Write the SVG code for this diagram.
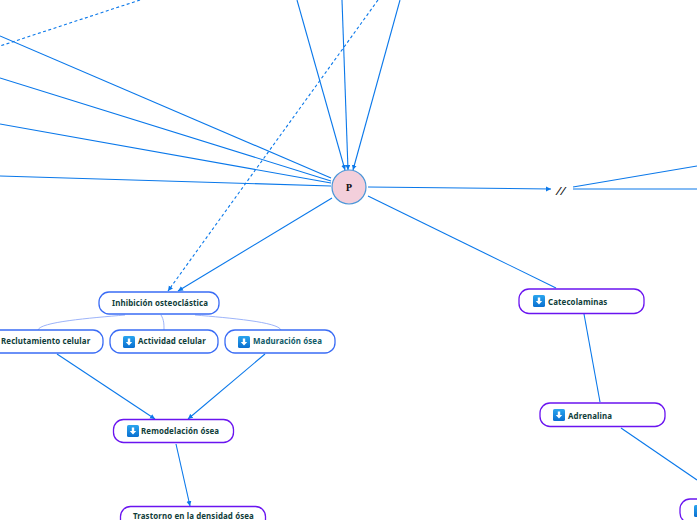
<svg xmlns="http://www.w3.org/2000/svg" width="697" height="520" viewBox="0 0 697 520">
<style>
text{font-family:"Noto Sans","Open Sans",sans-serif;font-size:7.9px;letter-spacing:.12px;font-weight:700;fill:#0f3d3a}
.c line,.c path{fill:none;stroke:#0a78ea;stroke-width:1.1}
.c .d{stroke-dasharray:3 2.5}
.b{fill:#fff;stroke:#3a6cf5;stroke-width:1.3}
.v{fill:#fff;stroke:#6a14f0;stroke-width:1.3}
.c .s{fill:none;stroke:#9db4fa;stroke-width:1}
.m{font-family:"DejaVu Serif",serif;fill:#111}
</style>
<defs>
<marker id="a" markerWidth="6" markerHeight="6" refX="5" refY="2.5" orient="auto" markerUnits="userSpaceOnUse"><path d="M0 0L5 2.5L0 5Z" fill="#0a78ea"/></marker>
<linearGradient id="g" x1="0" y1="0" x2="0" y2="1"><stop offset="0" stop-color="#2aa5ee"/><stop offset="1" stop-color="#0a6fd0"/></linearGradient>
<g id="i"><rect width="12" height="12" rx="1.6" fill="url(#g)"/><path d="M4.8 2.4h2.4v3.600h2L6 9.600L2.800 6h2Z" fill="#fff"/></g>
</defs>
<g id="connectors" class="c">
<line class="d" x1="140" y1="0" x2="0" y2="46"/>
<line class="d" x1="378" y1="0" x2="168" y2="291" marker-end="url(#a)"/>
<line x1="0" y1="36" x2="331" y2="178"/>
<line x1="0" y1="78" x2="331" y2="181"/>
<line x1="0" y1="124" x2="331" y2="183"/>
<line x1="0" y1="176" x2="331" y2="186"/>
<line x1="297" y1="0" x2="345" y2="170" marker-end="url(#a)"/>
<line x1="342" y1="0" x2="348" y2="170" marker-end="url(#a)"/>
<line x1="400" y1="0" x2="353" y2="170" marker-end="url(#a)"/>
<line x1="368" y1="187" x2="551" y2="189" marker-end="url(#a)"/>
<line x1="573" y1="187" x2="697" y2="166"/>
<line x1="573" y1="189" x2="697" y2="189"/>
<line x1="332" y1="198" x2="178" y2="291" marker-end="url(#a)"/>
<line x1="368" y1="196" x2="556" y2="288"/>
<line x1="584" y1="314" x2="600" y2="402"/>
<line x1="621" y1="428" x2="697" y2="480"/>
<line x1="57" y1="354" x2="155" y2="419" marker-end="url(#a)"/>
<line x1="265" y1="354" x2="188" y2="419" marker-end="url(#a)"/>
<line x1="176" y1="444" x2="190" y2="506" marker-end="url(#a)"/>
<path class="s" d="M125 315C90 318 40 322 38 330"/>
<path class="s" d="M161 315C164 320 164 324 164 330"/>
<path class="s" d="M195 315C230 318 278 322 281 330"/>
</g>
<g id="n-p"><circle cx="349" cy="187" r="17" fill="#f3cfdb" stroke="#4a96d8" stroke-width="1.2"/><text class="m" x="349" y="190.500" text-anchor="middle" style="font-size:8.300px">P</text></g>
<g id="n-slash"><text x="560" y="195" text-anchor="middle" style="font-family:'Liberation Mono',monospace;font-size:10px;font-style:italic;letter-spacing:-1.500px;fill:#111">//</text></g>
<g id="n-inhibicion"><rect class="b" x="99" y="292" width="120" height="22" rx="10"/><text x="112" y="306">Inhibición osteoclástica</text></g>
<g id="n-reclutamiento"><rect class="b" x="-20" y="330" width="123" height="23" rx="10"/><text x="1" y="344">Reclutamiento celular</text></g>
<g id="n-actividad"><rect class="b" x="110" y="330" width="108" height="23" rx="10"/><use href="#i" x="123" y="336"/><text x="138" y="344">Actividad celular</text></g>
<g id="n-maduracion"><rect class="b" x="225" y="330" width="110" height="23" rx="10"/><use href="#i" x="238" y="336"/><text x="253" y="344" style="fill:#0f5a68">Maduración ósea</text></g>
<g id="n-remodelacion"><rect class="v" x="113.500" y="419.500" width="120" height="23" rx="10"/><use href="#i" x="127" y="425"/><text x="141" y="434">Remodelación ósea</text></g>
<g id="n-trastorno"><rect class="v" x="120.500" y="506.500" width="145" height="23" rx="10"/><text x="133" y="519">Trastorno en la densidad ósea</text></g>
<g id="n-catecolaminas"><rect class="v" x="519" y="289" width="125" height="24.500" rx="10"/><use href="#i" x="533" y="295"/><text x="548" y="305">Catecolaminas</text></g>
<g id="n-adrenalina"><rect class="v" x="540" y="403" width="125" height="23.500" rx="10"/><use href="#i" x="553" y="409"/><text x="568" y="419">Adrenalina</text></g>
<g id="n-next"><rect class="v" x="680" y="499" width="60" height="24" rx="10"/><use href="#i" x="694" y="505"/></g>
</svg>
